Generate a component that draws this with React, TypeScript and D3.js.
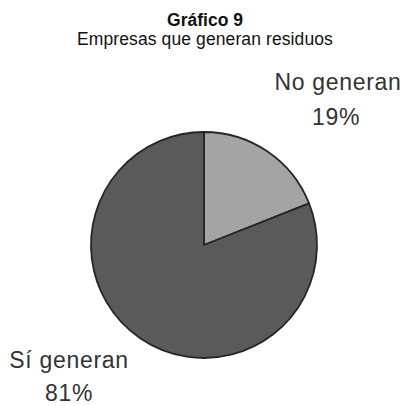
import React from "react";
import * as d3 from "d3";

const categories = ["No generan", "Sí generan"];
const values = [19, 81];
const percentLabels = ["19%", "81%"];
const titleLines = ["Gráfico 9", "Empresas que generan residuos"];
const colors = ["#a4a4a4", "#5a5a5a"];

const W = 407;
const H = 406;
const cx = 204;
const cy = 245;
const R = 113;

// label layout offsets relative to pie center (layout, not data)
const labelPos = [
  { dx: 134, dy: -155, pdx: -2, gap: 35 },
  { dx: -135, dy: 123, pdx: 0, gap: 33 },
];

export default function App() {
  const pie = d3.pie<number>().sort(null).startAngle(0).endAngle(2 * Math.PI);
  const arcs = pie(values);
  const arc = d3.arc<d3.PieArcDatum<number>>().innerRadius(0).outerRadius(R);
  return (
    <svg
      width={W}
      height={H}
      style={{ position: "absolute", left: 0, top: 0, background: "#fff" }}
    >
      <rect x={0} y={0} width={W} height={H} fill="#fff" />
      <text
        x={205}
        y={26}
        textAnchor="middle"
        fontFamily="Liberation Sans, Arial, sans-serif"
        fontWeight="bold"
        fontSize={17.5}
        fill="#111"
      >
        {titleLines[0]}
      </text>
      <text
        x={205}
        y={45}
        textAnchor="middle"
        fontFamily="Liberation Sans, Arial, sans-serif"
        fontSize={17.5}
        letterSpacing={0.1}
        fill="#111"
      >
        {titleLines[1]}
      </text>
      <g transform={`translate(${cx},${cy})`}>
        {arcs.map((a, i) => (
          <path
            key={i}
            d={arc(a) || ""}
            fill={colors[i]}
            stroke="#262626"
            strokeWidth={1.8}
            strokeLinejoin="round"
          />
        ))}
        {categories.map((c, i) => (
          <g
            key={c}
            fill="#333"
            fontFamily="Liberation Sans, Arial, sans-serif"
            fontSize={23}
            letterSpacing={0.7}
            textAnchor="middle"
          >
            <text x={labelPos[i].dx} y={labelPos[i].dy}>{c}</text>
            <text x={labelPos[i].dx + labelPos[i].pdx} y={labelPos[i].dy + labelPos[i].gap}>
              {percentLabels[i]}
            </text>
          </g>
        ))}
      </g>
    </svg>
  );
}
